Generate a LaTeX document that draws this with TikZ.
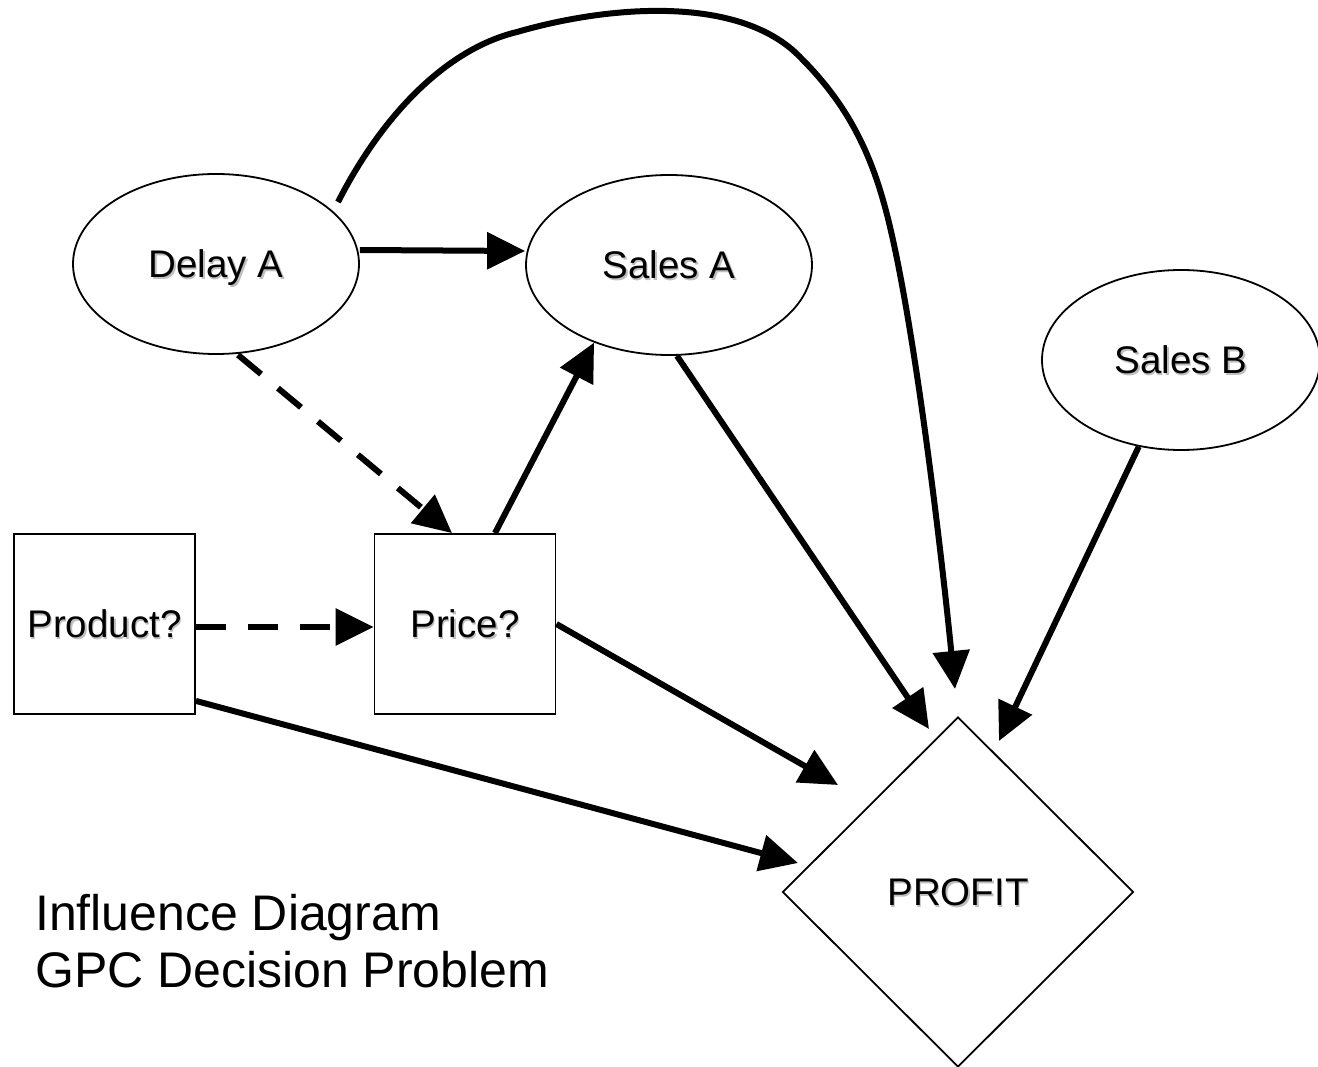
\documentclass[tikz,border=0pt]{standalone}
\usepackage{fontspec}
\setmainfont{Liberation Sans}
\usetikzlibrary{shapes.geometric,arrows.meta}

% label text with a soft grey drop shadow
\newcommand\shtext[1]{\rlap{\kern1.5pt\raisebox{-1.5pt}{\textcolor{black!25}{#1}}}#1}

\tikzset{
  nodetext/.style={font=\fontsize{38.5}{44}\selectfont,
    text height=27.5pt, text depth=0pt},
  chance/.style={ellipse, draw, line width=1.8pt, inner sep=0pt,
    minimum width=286pt, minimum height=180pt, nodetext},
  decision/.style={rectangle, draw, line width=1.8pt, inner sep=0pt,
    minimum width=181pt, minimum height=180pt, nodetext},
  valuenode/.style={diamond, draw, line width=1.8pt, inner sep=0pt,
    minimum width=351pt, minimum height=350pt, nodetext},
  infl/.style={line width=6pt, -{Triangle[length=38pt,width=36pt]}},
  inflinfo/.style={infl, dash pattern=on 30pt off 22pt},
  caption/.style={anchor=base west, inner sep=0pt,
    font=\fontsize{50}{57}\selectfont}
}

\begin{document}
\begin{tikzpicture}[x=1pt,y=1pt]
  \useasboundingbox (0,0) rectangle (1318,-1067);

  % nodes
  \node[chance] (delay) at (216,-264) {\shtext{Delay A}};
  \node[chance] (salesa) at (669,-265) {\shtext{Sales A}};
  \node[chance, minimum width=278pt] (salesb) at (1181,-360) {\shtext{Sales B}};
  \node[decision] (product) at (104.5,-624) {\shtext{Product?}};
  \node[decision] (price) at (465,-624) {\shtext{Price?}};
  \node[valuenode] (profit) at (958,-892) {\shtext{PROFIT}};

  % informational (dashed) arcs
  \draw[inflinfo] ([xshift=22pt]delay.south) -- ([xshift=-13pt]price.north);
  \draw[inflinfo] ([yshift=-3pt]product.east) -- ([yshift=-3pt]price.west);

  % relevance arcs
  \draw[infl] ([yshift=14pt]delay.east) -- ([yshift=14pt]salesa.west);
  \draw[infl] ([xshift=30pt]price.north) -- (salesa.226);
  \draw[infl] ([xshift=8pt]salesa.south) -- ([shift={(-29,163)}]profit.center);
  \draw[infl] (price.east) -- ([shift={(-120,107)}]profit.center);
  \draw[infl] ([yshift=14pt]product.south east) -- ([shift={(-160,29)}]profit.center);
  \draw[infl] (salesb.244) -- ([shift={(41,151)}]profit.center);
  \draw[infl] ([shift={(122,62)}]delay.center)
      .. controls (385,-110) and (450,-48) .. (517,-32)
      .. controls (610,-5) and (740,5) .. (800,-57)
      .. controls (835,-92) and (864,-133) .. (883,-200)
      .. controls (911,-296) and (940,-539) .. ([shift={(-3,203)}]profit.center);

  % caption
  \node[caption] (title) at (35,-930) {Influence Diagram};
  \node[caption] (subtitle) at (35,-987) {GPC Decision Problem};
\end{tikzpicture}
\end{document}
